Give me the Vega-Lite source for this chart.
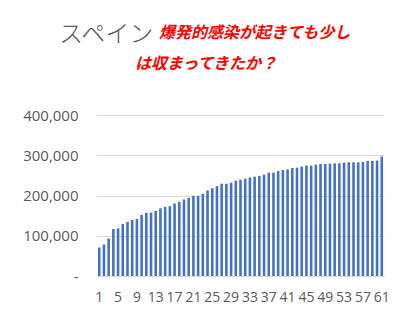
{
  "$schema": "https://vega.github.io/schema/vega-lite/v6.json",
  "autosize": "none",
  "width": 287,
  "height": 161,
  "padding": {"left": 97, "top": 115, "right": 14, "bottom": 38},
  "background": "#ffffff",
  "config": {"view": {"stroke": null}},
  "title": {
    "text": "スペイン",
    "subtitle": ["\u2800\u3000\u3000\u3000\u3000\u3000\u2002爆発的感染が起きても少し", "\u2800\u3000\u3000\u3000\u3000は収まってきたか？"],
    "anchor": "start",
    "frame": "group",
    "dx": -38,
    "offset": 36,
    "font": "Noto Sans CJK JP",
    "fontSize": 24,
    "fontWeight": 300,
    "color": "#595959",
    "subtitleFont": "Noto Sans CJK JP",
    "subtitleFontSize": 16,
    "subtitleFontWeight": "bold",
    "subtitleFontStyle": "italic",
    "subtitleColor": "#FF0000",
    "subtitleLineHeight": 31,
    "subtitlePadding": -22
  },
  "data": {
    "values": [
      {"day": 1, "cases": 70800}, {"day": 2, "cases": 78300}, {"day": 3, "cases": 93300},
      {"day": 4, "cases": 116700}, {"day": 5, "cases": 118300}, {"day": 6, "cases": 129200},
      {"day": 7, "cases": 134200}, {"day": 8, "cases": 139200}, {"day": 9, "cases": 141700},
      {"day": 10, "cases": 151700}, {"day": 11, "cases": 156700}, {"day": 12, "cases": 157500},
      {"day": 13, "cases": 161700}, {"day": 14, "cases": 168300}, {"day": 15, "cases": 171700},
      {"day": 16, "cases": 173300}, {"day": 17, "cases": 180000}, {"day": 18, "cases": 184200},
      {"day": 19, "cases": 190000}, {"day": 20, "cases": 194200}, {"day": 21, "cases": 199200},
      {"day": 22, "cases": 199200}, {"day": 23, "cases": 204200}, {"day": 24, "cases": 212500},
      {"day": 25, "cases": 218300}, {"day": 26, "cases": 223300}, {"day": 27, "cases": 229200},
      {"day": 28, "cases": 229200}, {"day": 29, "cases": 231700}, {"day": 30, "cases": 236700},
      {"day": 31, "cases": 239200}, {"day": 32, "cases": 241700}, {"day": 33, "cases": 245000},
      {"day": 34, "cases": 246700}, {"day": 35, "cases": 248300}, {"day": 36, "cases": 251700},
      {"day": 37, "cases": 256700}, {"day": 38, "cases": 256700}, {"day": 39, "cases": 260800},
      {"day": 40, "cases": 263300}, {"day": 41, "cases": 265000}, {"day": 42, "cases": 268300},
      {"day": 43, "cases": 269200}, {"day": 44, "cases": 271700}, {"day": 45, "cases": 274200},
      {"day": 46, "cases": 274200}, {"day": 47, "cases": 276700}, {"day": 48, "cases": 278300},
      {"day": 49, "cases": 278300}, {"day": 50, "cases": 279200}, {"day": 51, "cases": 280000},
      {"day": 52, "cases": 280000}, {"day": 53, "cases": 281700}, {"day": 54, "cases": 282500},
      {"day": 55, "cases": 282500}, {"day": 56, "cases": 282500}, {"day": 57, "cases": 283300},
      {"day": 58, "cases": 285800}, {"day": 59, "cases": 285800}, {"day": 60, "cases": 286700},
      {"day": 61, "cases": 296700}
    ]
  },
  "mark": {"type": "bar", "color": "#4472C4"},
  "encoding": {
    "x": {
      "field": "day",
      "type": "ordinal",
      "scale": {"paddingInner": 0.45, "paddingOuter": 0.2},
      "axis": {
        "title": null,
        "values": [1, 5, 9, 13, 17, 21, 25, 29, 33, 37, 41, 45, 49, 53, 57, 61],
        "labelAngle": 0,
        "labelOverlap": false,
        "labelFont": "Open Sans",
        "labelFontSize": 14,
        "labelColor": "#595959",
        "labelPadding": 14,
        "ticks": false,
        "domainColor": "#d9d9d9",
        "domainWidth": 1
      }
    },
    "y": {
      "field": "cases",
      "type": "quantitative",
      "scale": {"domain": [0, 400000], "nice": false},
      "axis": {
        "title": null,
        "values": [0, 100000, 200000, 300000, 400000],
        "labelExpr": "datum.value == 0 ? '-' : format(datum.value, ',')",
        "labelFont": "Open Sans",
        "labelFontSize": 15,
        "labelColor": "#595959",
        "labelPadding": 19,
        "ticks": false,
        "domain": false,
        "gridColor": "#d9d9d9",
        "gridWidth": 1
      }
    }
  }
}
